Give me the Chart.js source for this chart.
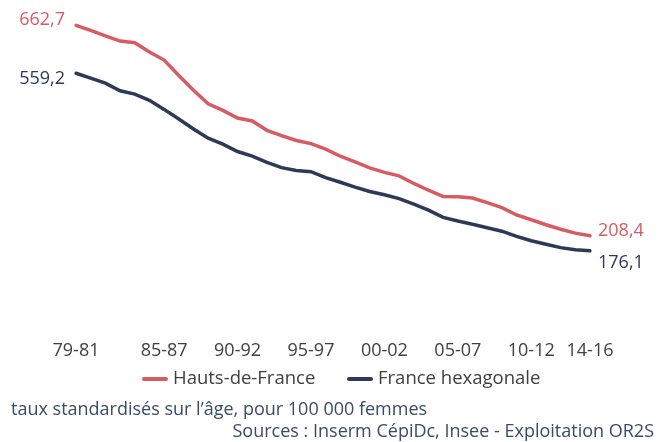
<!DOCTYPE html>
<html lang="fr">
<head>
    <meta charset="UTF-8">
    <title>Taux standardisés - Hauts-de-France / France hexagonale</title>
    <script src="https://cdn.jsdelivr.net/npm/chart.js"></script>
    <style>
        html, body { margin: 0; padding: 0; background: #fff; }
        .wrap { position: relative; width: 665px; height: 442px; font-family: "Open Sans", sans-serif; }
        .note { position: absolute; font-size: 18px; color: #3b4a66; white-space: nowrap; }
        #note1 { left: 11px; top: 396px; }
        #note2 { right: 11px; top: 418px; }
    </style>
</head>
<body>
    <div class="wrap">
        <canvas id="chart" width="665" height="442"></canvas>
        <div class="note" id="note1">taux standardisés sur l’âge, pour 100 000 femmes</div>
        <div class="note" id="note2">Sources : Inserm CépiDc, Insee - Exploitation OR2S</div>
    </div>

    <script>
        // periods 79-81 ... 14-16
        const periods = [
            "79-81", "80-82", "81-83", "82-84", "83-85", "84-86", "85-87", "86-88", "87-89", "88-90",
            "89-91", "90-92", "91-93", "92-94", "93-95", "94-96", "95-97", "96-98", "97-99", "98-00",
            "99-01", "00-02", "01-03", "02-04", "03-05", "04-06", "05-07", "06-08", "07-09", "08-10",
            "09-11", "10-12", "11-13", "12-14", "13-15", "14-16"
        ];
        const shownTicks = ["79-81", "85-87", "90-92", "95-97", "00-02", "05-07", "10-12", "14-16"];

        const hautsDeFrance = [
            662.7, 651.8, 639.9, 628.6, 625.1, 605.1, 587.7, 554.4, 522.5, 493.1,
            479.0, 462.7, 456.2, 436.0, 424.7, 414.2, 407.3, 395.3, 380.1, 368.1,
            354.9, 345.3, 337.7, 321.4, 306.8, 293.1, 292.5, 289.9, 280.1, 269.2,
            253.4, 243.1, 232.3, 222.5, 214.2, 208.4
        ];
        const franceHexagonale = [
            559.2, 548.6, 537.7, 521.4, 514.2, 500.8, 481.2, 460.5, 438.8, 419.2,
            406.2, 390.3, 380.5, 367.0, 355.5, 349.2, 346.8, 333.8, 324.0, 313.4,
            304.0, 297.0, 288.6, 276.8, 263.8, 248.1, 240.3, 233.4, 225.7, 218.4,
            207.3, 197.9, 190.1, 182.9, 178.4, 176.1
        ];

        const RED = "#d95b62";
        const NAVY = "#2c3a57";
        const fmt = v => v.toFixed(1).replace(".", ",");

        // first / last values next to the lines + legend under the axis
        const extras = {
            id: "extras",
            afterDatasetsDraw(chart) {
                const ctx = chart.ctx;
                ctx.save();
                ctx.font = "18px 'Open Sans'";
                ctx.textBaseline = "middle";
                chart.data.datasets.forEach((ds, i) => {
                    const pts = chart.getDatasetMeta(i).data;
                    const first = pts[0], last = pts[pts.length - 1];
                    ctx.fillStyle = ds.borderColor;
                    ctx.textAlign = "right";
                    ctx.fillText(fmt(ds.data[0]), first.x - 11, first.y + (i === 0 ? -5 : 6));
                    ctx.textAlign = "left";
                    ctx.fillText(fmt(ds.data[ds.data.length - 1]), last.x + 8, last.y + (i === 0 ? -5 : 12));
                });

                // legend
                const legendY = 379;
                const starts = [142, 347];
                ctx.lineCap = "round";
                ctx.lineWidth = 4;
                ctx.font = "18.5px 'Open Sans'";
                chart.data.datasets.forEach((ds, i) => {
                    const x = starts[i];
                    ctx.strokeStyle = ds.borderColor;
                    ctx.beginPath();
                    ctx.moveTo(x + 2, legendY);
                    ctx.lineTo(x + 24, legendY);
                    ctx.stroke();
                    ctx.fillStyle = "#404040";
                    ctx.textAlign = "left";
                    ctx.fillText(ds.label, x + 31, legendY);
                });
                ctx.restore();
            }
        };

        Chart.defaults.font.family = "'Open Sans', sans-serif";
        Chart.defaults.font.size = 18;
        Chart.defaults.color = "#404040";

        new Chart(document.getElementById("chart"), {
            type: "line",
            data: {
                labels: periods,
                datasets: [
                    {
                        label: "Hauts-de-France",
                        data: hautsDeFrance,
                        borderColor: RED,
                        backgroundColor: RED,
                        borderWidth: 3.5,
                        borderCapStyle: "round",
                        pointRadius: 0,
                        tension: 0
                    },
                    {
                        label: "France hexagonale",
                        data: franceHexagonale,
                        borderColor: NAVY,
                        backgroundColor: NAVY,
                        borderWidth: 3.5,
                        borderCapStyle: "round",
                        pointRadius: 0,
                        tension: 0
                    }
                ]
            },
            options: {
                responsive: false,
                animation: false,
                layout: { padding: { left: 76, right: 75, top: 8, bottom: 72 } },
                scales: {
                    x: {
                        offset: false,
                        grid: { display: false, drawTicks: false },
                        border: { display: false },
                        ticks: {
                            autoSkip: false,
                            maxRotation: 0,
                            padding: 8,
                            callback: function (val) {
                                const lab = this.getLabelForValue(val);
                                return shownTicks.includes(lab) ? lab : "";
                            }
                        }
                    },
                    y: {
                        display: false,
                        min: 0,
                        max: 700
                    }
                },
                plugins: {
                    legend: { display: false },
                    tooltip: { enabled: false }
                }
            },
            plugins: [extras]
        });
    </script>
</body>
</html>
